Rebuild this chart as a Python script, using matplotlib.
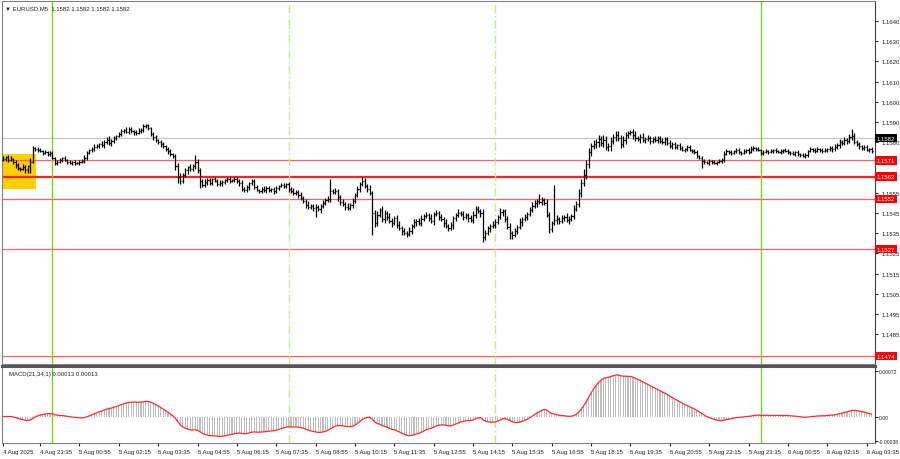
import numpy as np
import pandas as pd
import matplotlib.pyplot as plt
import matplotlib.transforms as mtransforms
from matplotlib.collections import LineCollection
from matplotlib.patches import Rectangle

plt.rcParams['font.family'] = ['Liberation Sans', 'DejaVu Sans']

# EURUSD M5 closes, in pips above 1.1500 (one per bar)
close_pips = [
    71.5, 72.5, 71.0, 71.8, 70.0, 68.5, 67.0, 66.5, 67.5, 66.0, 68.0, 70.0,
    77.0, 76.5, 76.0, 75.5, 74.5, 75.0, 74.0, 74.5, 72.0, 69.5,
    70.0, 71.0, 72.0, 71.0, 70.0, 69.8, 70.2, 69.5, 69.8, 70.0, 70.5,
    72.0, 74.5, 76.0, 76.5, 77.5, 78.0, 79.0,
    78.5, 80.0, 81.0, 79.5, 80.5, 82.0, 83.0,
    84.0, 85.5, 86.0, 85.0, 86.5, 85.5, 85.0, 84.5, 85.5,
    86.0, 88.0, 88.5, 87.0,
    84.0, 82.5, 81.0, 80.0, 79.0, 78.0, 76.5, 75.5, 74.0, 73.0,
    68.0, 63.0, 61.0, 64.0, 66.0, 67.5, 66.5, 68.0, 70.0, 66.0, 61.0, 59.0,
    60.5, 61.5, 60.0, 62.0, 61.0, 59.5, 60.0,
    60.5, 61.5, 62.0, 61.0, 61.5, 62.0, 61.0, 60.0,
    57.0, 56.5, 58.0, 60.0, 61.0,
    58.0, 56.5, 56.0, 57.0, 56.5, 57.5, 56.5, 57.0, 56.0, 57.5, 58.5, 59.0, 58.5, 59.5,
    57.0, 56.0, 55.0, 55.5, 54.0, 52.5, 51.0,
    49.0, 48.0, 48.5, 47.5, 48.0, 47.0, 48.5,
    50.0, 51.5, 52.0, 56.0, 55.5, 56.0, 53.0, 50.5, 49.5, 48.0, 47.5, 49.0,
    51.0, 54.0, 57.0, 59.5, 61.0, 58.5, 57.0, 55.0,
    45.0, 40.0, 44.0, 46.5, 42.0, 45.0, 43.0,
    41.0, 40.0, 42.5, 39.0, 37.5, 36.0, 35.0, 34.5, 36.0,
    38.5, 40.5, 41.0, 40.0,
    42.0, 43.5, 44.0, 42.5, 41.0, 44.5, 45.0, 43.0,
    42.0, 40.0, 38.5, 37.5, 39.0,
    42.5, 44.0, 45.0, 44.5, 43.0, 44.0, 42.5, 41.5,
    44.0, 47.0, 46.0, 45.0, 33.0,
    35.0, 37.5, 38.5, 39.0, 40.5, 43.0, 45.5, 46.0,
    42.0, 38.0, 35.0, 34.0, 36.0,
    38.0, 40.5, 42.0, 43.0, 44.5,
    46.5, 48.5, 50.0, 51.0, 50.5, 51.5, 50.0, 44.0, 37.0,
    40.0, 41.5, 42.0, 41.0, 42.5, 43.0, 41.5, 42.0, 43.5,
    47.0, 49.5, 55.0, 60.0, 64.0, 69.0, 75.0, 78.0, 79.0,
    80.0, 81.5, 79.5, 81.0, 77.5, 78.0, 80.5, 82.5, 83.5, 82.0, 79.0, 81.0,
    83.5, 84.5, 85.0, 83.5, 82.0, 81.5, 82.5, 81.0,
    81.5, 82.0, 80.5, 81.5, 81.0, 82.0, 80.5,
    80.0, 81.5, 79.5, 78.0, 79.0,
    77.5, 78.5, 77.0, 76.0, 76.5, 77.5, 76.0, 75.5,
    75.0, 73.0, 72.0, 70.5,
    70.0, 69.5, 70.5, 70.0, 69.5, 70.0, 70.5, 71.0,
    74.0, 75.5, 75.0, 74.5, 75.5, 76.0, 75.0, 74.5, 75.5, 76.0, 75.0,
    76.5, 77.0, 76.5, 76.0,
    74.5, 75.0, 75.5, 75.0, 75.5, 76.0, 75.5, 75.0, 75.5, 76.0, 75.5, 75.0,
    74.5, 74.0, 75.0, 74.0, 73.5, 73.0, 73.5,
    75.5, 76.5, 76.0, 75.5, 76.5, 76.0, 75.5, 76.0, 76.5, 77.0, 76.5,
    77.5, 78.5, 80.0, 79.5, 81.0, 80.5, 82.5, 83.0, 80.0,
    79.0, 78.0, 77.0, 77.5, 76.0, 76.5, 75.5,
]
open_first = 71.0

# how far each bar's high / low reaches past its open-close range, pips
hi_ext = [
    1, 0.5, 1, 1.5, 0.5, 1, 1, 0.5, 1.5, 1, 0.5, 1,
    1, 0.5, 1, 1, 0.5, 1, 0.5, 1, 1, 0.5, 1, 1,
    0.5, 1, 0.5, 1, 0.5, 1, 0.5, 1, 1, 1.5, 1, 0.5,
    1, 1.5, 1, 0.5, 1.5, 1, 1.5, 2, 1, 1, 0.5, 1,
    1, 0.5, 1.5, 1, 1, 0.5, 1, 1.5, 1, 1, 0.5, 0.5,
    0.5, 1, 1, 0.5, 1, 1, 0.5, 1, 1, 0.5, 1, 1.5,
    2, 1, 1, 0.5, 1.5, 1, 1, 1.5, 1, 1, 1.5, 1,
    1, 0.5, 1, 1, 1.5, 1, 0.5, 1, 1, 0.5, 1, 1,
    1, 1.5, 1, 1, 0.5, 1, 1, 1, 0.5, 1, 1.5, 1,
    1, 0.5, 1, 1, 0.5, 1, 1, 0.5, 1, 1, 1.5, 1,
    1, 1.5, 1, 1, 2, 1, 1, 1.5, 1, 1, 1.5, 1,
    1.5, 1, 1, 1.5, 1, 1, 1.5, 1, 2, 1, 1.5, 1,
    1.5, 1, 1, 1.5, 1, 2, 1, 1.5, 2, 1, 2, 1.5,
    1, 2, 1.5, 1, 1.5, 2, 1, 1.5, 1, 2, 1, 1.5,
    1, 1.5, 2, 1, 1.5, 1, 2, 1, 1.5, 1, 1.5, 1,
    2, 1, 1.5, 1, 1, 2, 1, 1.5, 1, 1, 1.5, 2,
    1, 1.5, 1, 2, 1.5, 1, 1, 2, 1.5, 1, 2, 1,
    1, 1.5, 2, 1, 1.5, 1, 2, 1, 1.5, 1, 1.5, 2,
    1.5, 1, 2, 1.5, 1, 2, 1.5, 1, 1.5, 2, 1, 1.5,
    1, 2, 1.5, 1, 2, 1.5, 2, 2, 2.5, 2, 2, 1.5,
    2, 1.5, 2, 1.5, 2.5, 2, 1.5, 2, 1.5, 2, 2, 1.5,
    2, 1.5, 1, 2, 1.5, 2, 1, 1.5, 2, 1, 1.5, 1,
    1, 1.5, 1, 1, 1.5, 1, 1, 1.5, 1, 1, 0.5, 1,
    1, 0.5, 1, 1, 0.5, 1, 1, 0.5, 1, 1, 0.5, 1,
    0.5, 1, 0.5, 1, 1, 1.5, 1, 0.5, 1, 0.5, 1, 1,
    0.5, 1, 0.5, 1, 1.5, 1, 0.5, 1, 0.5, 1, 1, 0.5,
    1, 0.5, 1, 0.5, 1, 0.5, 1, 1, 0.5, 1, 0.5, 1,
    0.5, 1, 1, 0.5, 1, 0.5, 1, 1, 0.5, 1, 1, 0.5,
    1, 1, 1.5, 1, 1.5, 1, 1.5, 1, 1.5, 1, 1.5, 1,
    1, 0.5, 1, 1, 0.5, 1,
]
lo_ext = [
    0.5, 1, 1, 0.5, 1, 1.5, 1, 1, 0.5, 1, 1, 1,
    0.5, 1, 1, 0.5, 1, 0.5, 1, 1, 0.5, 1, 1, 0.5,
    1, 0.5, 1, 0.5, 1, 1, 0.5, 1, 0.5, 1, 1, 0.5,
    1, 1, 0.5, 1, 1, 1.5, 1, 1, 1.5, 1, 1, 0.5,
    1, 1, 0.5, 1, 1, 1.5, 1, 0.5, 1, 1, 1, 1,
    1, 1.5, 1, 1, 1.5, 1, 1, 1.5, 1, 1, 2, 1,
    1.5, 1, 1, 1.5, 1, 1, 1.5, 1, 2, 1, 1, 1.5,
    1, 1, 0.5, 1, 1, 1.5, 1, 1, 1, 0.5, 1, 1,
    1.5, 1, 1, 1, 1.5, 1, 1, 0.5, 1, 1, 1, 1.5,
    1, 1, 1.5, 1, 1, 0.5, 1, 1, 1.5, 1, 1, 1,
    1.5, 1, 1, 1.5, 1, 1, 1.5, 1, 1, 2, 1, 1,
    1, 1.5, 1, 1, 2, 1.5, 1, 1.5, 1, 1, 1.5, 1,
    1, 1.5, 1, 1, 1.5, 1, 1, 2, 1.5, 1, 1.5, 2,
    1.5, 1, 2, 1, 1.5, 1, 2, 1, 1.5, 1, 1.5, 1,
    2, 1, 1.5, 1, 1, 1.5, 1, 2, 1, 1.5, 1, 2,
    1, 1.5, 1, 2, 1.5, 1, 1, 1.5, 1, 2, 1, 1.5,
    1.5, 1, 2, 1, 1.5, 1, 2, 1, 1.5, 1, 1, 2,
    1.5, 1, 1, 2, 1, 1.5, 1, 2, 1, 1.5, 1, 1,
    1, 2, 1, 1.5, 1, 1, 2, 1.5, 1, 2, 1.5, 1,
    1.5, 1, 2, 1, 1.5, 1, 1.5, 2, 1.5, 2, 2, 2,
    1.5, 2, 2.5, 1.5, 2, 1.5, 2, 2.5, 1.5, 2, 1.5, 2,
    1.5, 2, 1.5, 1, 2, 1.5, 1, 2, 1, 1.5, 1, 1.5,
    1, 1, 1.5, 1, 1, 1.5, 1, 1, 1.5, 1, 1, 1,
    0.5, 1, 1, 0.5, 1, 1, 1, 0.5, 1, 1, 0.5, 1,
    1, 0.5, 1, 0.5, 1, 1, 0.5, 1, 1, 0.5, 1, 1,
    1, 0.5, 1, 1, 0.5, 1, 1, 0.5, 1, 1, 0.5, 1,
    0.5, 1, 1, 0.5, 1, 1, 0.5, 1, 1, 0.5, 1, 1,
    1, 0.5, 1, 1, 0.5, 1, 1, 0.5, 1, 1, 0.5, 1,
    1, 1.5, 1, 1, 1.5, 1, 1, 1.5, 1, 1.5, 1, 1,
    1.5, 1, 1, 0.5, 1, 1,
]
# wicks that stick out well past the rest (bar index: pips)
high_spikes = {0: 73.0, 11: 72.0, 58: 89.0, 78: 73.5, 101: 62.0, 133: 62.0,
               146: 63.0, 192: 48.5, 218: 54.5, 224: 59.0, 255: 86.0, 345: 86.5}
low_spikes = {11: 65.0, 71: 60.0, 80: 57.5, 127: 43.0, 150: 34.0, 195: 30.5,
              206: 32.0, 284: 67.0}

bid_price = 1.1582
level_lines = [1.1571, 1.1563, 1.1552, 1.1527, 1.1474]
level_widths = [0.9, 1.6, 0.9, 0.9, 0.9]
zone_prices = (1.15569, 1.15742)
zone_bars = (0, 13)
price_ticks = [1.1640, 1.1630, 1.1620, 1.1610, 1.1600, 1.1590, 1.1580,
               1.1555, 1.1545, 1.1535, 1.1525, 1.1515, 1.1505, 1.1495, 1.1485]
macd_ticks = [0.00072, 0.0, -0.00038]
macd_tick_labels = ['0.00072', '0.00', '-0.00038']
time_labels = ['4 Aug 2025', '4 Aug 23:35', '5 Aug 00:55', '5 Aug 02:15', '5 Aug 03:35',
               '5 Aug 04:55', '5 Aug 06:15', '5 Aug 07:35', '5 Aug 08:55', '5 Aug 10:15',
               '5 Aug 11:35', '5 Aug 12:55', '5 Aug 14:15', '5 Aug 15:35', '5 Aug 16:55',
               '5 Aug 18:15', '5 Aug 19:35', '5 Aug 20:55', '5 Aug 22:15', '5 Aug 23:35',
               '6 Aug 00:55', '6 Aug 02:15', '6 Aug 03:35']
session_bars = [20, 116, 200, 308]
session_solid = [True, False, False, True]

# build OHLC
closes = 1.15 + np.array(close_pips) / 1e4
opens = np.r_[1.15 + open_first / 1e4, closes[:-1]]
highs = np.maximum(opens, closes) + np.array(hi_ext) / 1e4
lows = np.minimum(opens, closes) - np.array(lo_ext) / 1e4
for i, v in high_spikes.items():
    highs[i] = 1.15 + v / 1e4
for i, v in low_spikes.items():
    lows[i] = 1.15 + v / 1e4
n = len(closes)
x = np.arange(n)

s = pd.Series(closes)
macd = (s.ewm(span=21, adjust=False).mean() - s.ewm(span=34, adjust=False).mean()).values

fig = plt.figure(figsize=(9, 4.6), dpi=100)
ax = fig.add_axes([2 / 900, 95 / 460, 873 / 900, 363 / 460])
ax2 = fig.add_axes([2 / 900, 16 / 460, 873 / 900, 77 / 460])

# yellow zone
ax.add_patch(Rectangle((zone_bars[0] - 0.5, zone_prices[0]), zone_bars[1] - zone_bars[0] + 0.8,
                       zone_prices[1] - zone_prices[0], color='#ffd000', zorder=1, lw=0))

ax.axhline(bid_price, color='#c8c8c8', lw=0.9, zorder=2)
for lvl, w in zip(level_lines, level_widths):
    ax.axhline(lvl, color='#ff2020' if w > 1 else '#ff6060', lw=w, zorder=2)

for b, solid in zip(session_bars, session_solid):
    for a in (ax, ax2):
        if solid:
            a.axvline(b, color='#7ad21e', lw=1.0, zorder=2)
        else:
            a.axvline(b, color='#bdf08a', lw=1.0, ls=(0, (6, 2, 1, 2)), zorder=2)

# OHLC bars
segs = []
for i in range(n):
    segs.append([(x[i], lows[i]), (x[i], highs[i])])
    segs.append([(x[i] - 0.45, opens[i]), (x[i], opens[i])])
    segs.append([(x[i], closes[i]), (x[i] + 0.45, closes[i])])
ax.add_collection(LineCollection(segs, colors='black', linewidths=0.9, zorder=3))

ax.set_xlim(-0.5, 354.4)
ax.set_ylim(1.14702, 1.16499)
ax.set_xticks([])
ax.yaxis.tick_right()
ax.set_yticks(price_ticks)
ax.set_yticklabels(['%.4f' % t for t in price_ticks])
ax.tick_params(axis='y', labelsize=4.3, length=2.5, pad=2, colors='#202020')

tr = mtransforms.blended_transform_factory(ax.transAxes, ax.transData)
ax.text(1.002, bid_price, '%.4f' % bid_price, transform=tr, fontsize=4.3, color='white',
        va='center', ha='left', bbox=dict(facecolor='black', edgecolor='none', pad=1.2), zorder=5)
for lvl in level_lines:
    ax.text(1.002, lvl, '%.4f' % lvl, transform=tr, fontsize=4.3, color='white',
            va='center', ha='left', bbox=dict(facecolor='#ff0000', edgecolor='none', pad=1.2),
            zorder=5, clip_on=False)

ax.text(0.004, 0.988, '\u25bc EURUSD,M5  1.1582 1.1582 1.1582 1.1582', transform=ax.transAxes,
        fontsize=4.3, va='top', ha='left', color='#202020')

# MACD panel
ax2.bar(x, macd, width=0.45, color='#bdbdbd', zorder=1)
ax2.plot(x, macd, color='#ff2a2a', lw=0.9, zorder=3)
ax2.set_xlim(-0.5, 354.4)
ax2.set_ylim(-0.000414, 0.000797)
ax2.yaxis.tick_right()
ax2.set_yticks(macd_ticks)
ax2.set_yticklabels(macd_tick_labels)
tick_idx = [0] + list(range(15, 15 + 16 * (len(time_labels) - 1), 16))
ax2.set_xticks(tick_idx)
ax2.set_xticklabels(time_labels, ha='left')
ax2.tick_params(axis='x', labelsize=4.3, length=2.5, pad=2, colors='#202020')
ax2.tick_params(axis='y', labelsize=3.6, length=2, pad=1, colors='#202020')
ax2.text(0.008, 0.93, 'MACD(21,34,1) 0.00013 0.00013', transform=ax2.transAxes,
         fontsize=4.3, va='top', ha='left', color='#202020')

for a in (ax, ax2):
    for sp in a.spines.values():
        sp.set_color('#808080')
        sp.set_linewidth(0.8)
    a.spines['right'].set_color('#404040')
ax2.spines['top'].set_color('#555555')
ax2.spines['top'].set_linewidth(2.2)

fig.savefig('out.png', dpi=100, facecolor='white')
